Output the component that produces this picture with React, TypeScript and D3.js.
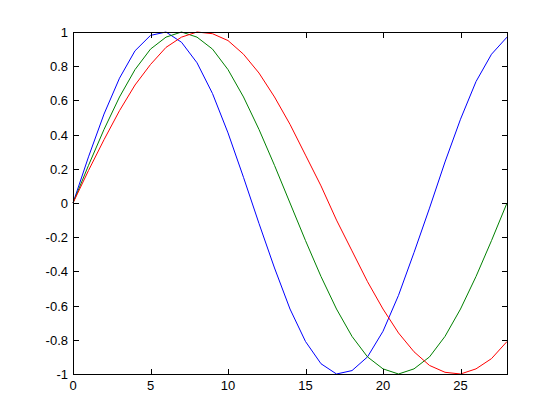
import React, { useRef, useEffect } from 'react';
import * as d3 from 'd3';

// sample positions 0..28
const xs = d3.range(0, 29);

const blueY = [
  0, 0.27, 0.52, 0.73, 0.89, 0.98, 1.0, 0.94, 0.82, 0.64, 0.41, 0.15, -0.12, -0.38, -0.62,
  -0.81, -0.94, -1.0, -0.98, -0.9, -0.75, -0.54, -0.29, -0.03, 0.24, 0.49, 0.71, 0.87, 0.97,
];
const greenY = [
  0, 0.22, 0.43, 0.62, 0.78, 0.9, 0.97, 1.0, 0.97, 0.9, 0.78, 0.62, 0.43, 0.22, 0, -0.22,
  -0.43, -0.62, -0.78, -0.9, -0.97, -1.0, -0.97, -0.9, -0.78, -0.62, -0.43, -0.22, 0,
];
const redY = [
  0, 0.19, 0.37, 0.54, 0.69, 0.81, 0.91, 0.97, 1.0, 0.99, 0.95, 0.87, 0.76, 0.62, 0.46, 0.28,
  0.1, -0.1, -0.28, -0.46, -0.62, -0.76, -0.87, -0.95, -0.99, -1.0, -0.97, -0.91, -0.81,
];

const xTicks = [0, 5, 10, 15, 20, 25];
const yTicks = [-1, -0.8, -0.6, -0.4, -0.2, 0, 0.2, 0.4, 0.6, 0.8, 1];

const series = [
  { values: blueY, color: '#0000ff' },
  { values: greenY, color: '#008000' },
  { values: redY, color: '#ff0000' },
];

const App: React.FC = () => {
  const svgRef = useRef<SVGSVGElement | null>(null);

  useEffect(() => {
    const svg = d3.select(svgRef.current);
    svg.selectAll('*').remove();

    const width = 560;
    const height = 420;
    const left = 73;
    const right = 507;
    const top = 32;
    const bottom = 374;
    const tick = 5;

    const x = d3.scaleLinear().domain([0, 28]).range([left, right]);
    const y = d3.scaleLinear().domain([-1, 1]).range([bottom, top]);

    svg.attr('width', width).attr('height', height);
    svg.append('rect').attr('width', width).attr('height', height).attr('fill', '#fff');

    const line = d3
      .line<number>()
      .x((_, i) => x(xs[i]))
      .y((d) => y(d));

    const plot = svg.append('g');
    series.forEach((s) => {
      plot
        .append('path')
        .datum(s.values)
        .attr('d', line)
        .attr('fill', 'none')
        .attr('stroke', s.color)
        .attr('stroke-width', 1);
    });

    const axes = svg.append('g').attr('stroke', '#000').attr('stroke-width', 1);
    axes
      .append('rect')
      .attr('x', left + 0.5)
      .attr('y', top + 0.5)
      .attr('width', right - left)
      .attr('height', bottom - top)
      .attr('fill', 'none');

    xTicks.forEach((t) => {
      const px = Math.round(x(t)) + 0.5;
      axes.append('line').attr('x1', px).attr('x2', px).attr('y1', bottom).attr('y2', bottom - tick);
      axes.append('line').attr('x1', px).attr('x2', px).attr('y1', top + 1).attr('y2', top + 1 + tick);
    });
    yTicks.forEach((t) => {
      const py = Math.round(y(t)) + 0.5;
      axes.append('line').attr('x1', left + 1).attr('x2', left + 1 + tick).attr('y1', py).attr('y2', py);
      axes.append('line').attr('x1', right).attr('x2', right - tick).attr('y1', py).attr('y2', py);
    });

    const labels = svg
      .append('g')
      .attr('font-family', 'Arial, "Liberation Sans", Helvetica, sans-serif')
      .attr('font-size', 13)
      .attr('fill', '#000');

    labels
      .selectAll('text.xl')
      .data(xTicks)
      .enter()
      .append('text')
      .attr('x', (d) => x(d))
      .attr('y', bottom + 16)
      .attr('text-anchor', 'middle')
      .text((d) => d3.format('')(d));

    labels
      .selectAll('text.yl')
      .data(yTicks)
      .enter()
      .append('text')
      .attr('x', left - 5)
      .attr('y', (d) => y(d) + 5)
      .attr('text-anchor', 'end')
      .text((d) => String(d));
  }, []);

  return (
    <svg
      ref={svgRef}
      style={{ position: 'absolute', left: 0, top: 0, display: 'block' }}
    ></svg>
  );
};

export default App;
